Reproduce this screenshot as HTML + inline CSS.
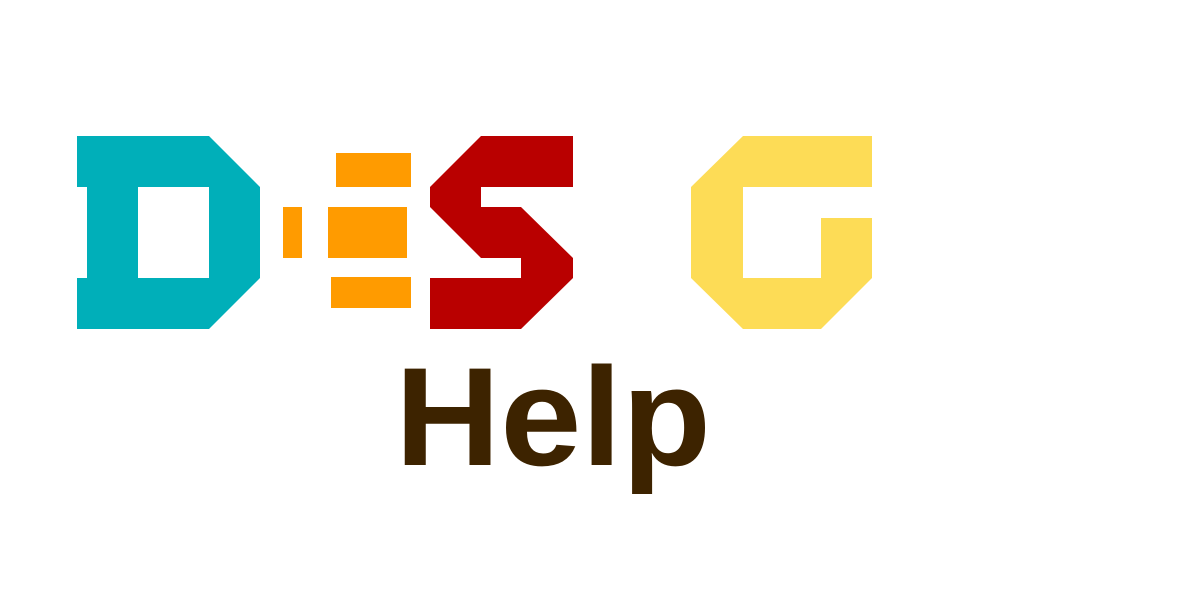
<!DOCTYPE html>
<html><head><meta charset="utf-8"><style>
html,body{margin:0;padding:0;background:#fff;width:1200px;height:600px;overflow:hidden}
</style></head><body>
<svg width="1200" height="600" viewBox="0 0 1200 600">
  <path fill="#00afb9" fill-rule="evenodd"
    d="M77,136 L209,136 L260,187 L260,278 L209,329 L77,329 L77,278 L87,278 L87,187 L77,187 Z M138,187 L209,187 L209,278 L138,278 Z"/>
  <g fill="#ff9b00">
    <rect x="283" y="207" width="19" height="51"/>
    <rect x="336" y="153" width="75" height="34"/>
    <rect x="328" y="207" width="79" height="51"/>
    <rect x="331" y="277" width="80" height="31"/>
  </g>
  <path fill="#b90000"
    d="M481,136 L573,136 L573,187 L481,187 L481,207 L521,207 L573,258 L573,278 L521,329 L430,329 L430,278 L521,278 L521,258 L481,258 L430,207 L430,187 Z"/>
  <path fill="#fddc56"
    d="M743,136 L872,136 L872,187 L743,187 L743,278 L821,278 L821,218 L872,218 L872,278 L821,329 L743,329 L691,278 L691,187 Z"/>
  <text x="395" y="465" font-family="Liberation Sans, Arial, sans-serif" font-weight="bold" font-size="140" fill="#3d2300" textLength="316" lengthAdjust="spacingAndGlyphs">Help</text>
</svg>
</body></html>
